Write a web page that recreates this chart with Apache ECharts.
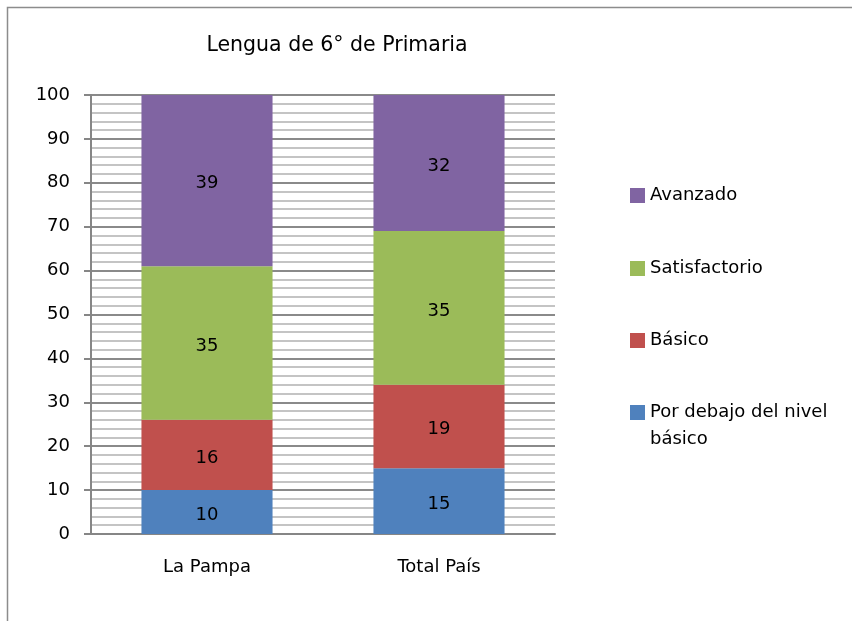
<!DOCTYPE html>
<html>
<head>
<meta charset="utf-8">
<script src="https://cdn.jsdelivr.net/npm/echarts@6/dist/echarts.min.js"></script>
<style>
  html, body { margin: 0; padding: 0; background: #fff; }
  #chart { width: 852px; height: 621px; }
</style>
</head>
<body>
<div id="chart"></div>
<script>
// datos
const categories = ['La Pampa', 'Total País'];
const porDebajo = [10, 15];
const basico = [16, 19];
const satisfactorio = [35, 35];
const avanzado = [39, 32];

const FONT = 'DejaVu Sans';

const chart = echarts.init(document.getElementById('chart'));

const mkSeries = (name, data, color) => ({
  name,
  type: 'bar',
  stack: 'total',
  barWidth: '56.5%',
  data,
  itemStyle: { color },
  label: {
    show: true,
    position: 'inside',
    offset: [0, 3],
    color: '#000',
    fontFamily: FONT,
    fontSize: 18
  }
});

// una leyenda por elemento, para ubicarlos como en el original
const mkLegend = (name, top, formatter) => ({
  data: [name],
  orient: 'vertical',
  left: 630,
  top,
  padding: 0,
  itemWidth: 15,
  itemHeight: 15,
  itemGap: 5,
  icon: 'rect',
  selectedMode: false,
  formatter: formatter || '{name}',
  textStyle: {
    fontFamily: FONT,
    fontSize: 18,
    color: '#000',
    lineHeight: 27
  }
});

const option = {
  backgroundColor: '#fff',
  animation: false,
  title: {
    text: 'Lengua de 6° de Primaria',
    left: 337,
    textAlign: 'center',
    top: 35,
    padding: 0,
    textStyle: { fontFamily: FONT, fontSize: 20.5, fontWeight: 'normal', color: '#000' }
  },
  graphic: [{
    type: 'rect',
    shape: { x: 7.5, y: 7.5, width: 900, height: 700 },
    style: { fill: 'none', stroke: '#8c8c8c', lineWidth: 1.5 },
    silent: true
  }],
  legend: [
    mkLegend('Avanzado', 182),
    mkLegend('Satisfactorio', 255),
    mkLegend('Básico', 327),
    // línea vacía arriba para que el cuadro quede junto a la primera línea
    mkLegend('Por debajo del nivel básico', 372, '\nPor debajo del nivel\nbásico')
  ],
  grid: { left: 91, right: 297, top: 95, bottom: 87 },
  xAxis: {
    type: 'category',
    data: categories,
    axisLine: { lineStyle: { color: '#868686', width: 2 } },
    axisTick: { show: false },
    axisLabel: { color: '#000', fontFamily: FONT, fontSize: 18, margin: 24 }
  },
  yAxis: {
    type: 'value',
    min: 0,
    max: 100,
    interval: 10,
    axisLine: { show: true, lineStyle: { color: '#868686', width: 2 } },
    axisTick: { show: true, length: 7, lineStyle: { color: '#868686', width: 2 } },
    axisLabel: { color: '#000', fontFamily: FONT, fontSize: 18, margin: 21 },
    splitLine: { lineStyle: { color: '#8a8a8a', width: 2 } },
    minorTick: { show: false, splitNumber: 5 },
    minorSplitLine: { show: true, lineStyle: { color: '#c4c4c4', width: 2 } }
  },
  series: [
    mkSeries('Por debajo del nivel básico', porDebajo, '#4f81bd'),
    mkSeries('Básico', basico, '#c0504d'),
    mkSeries('Satisfactorio', satisfactorio, '#9bbb59'),
    mkSeries('Avanzado', avanzado, '#8064a2')
  ]
};

chart.setOption(option);
</script>
</body>
</html>
